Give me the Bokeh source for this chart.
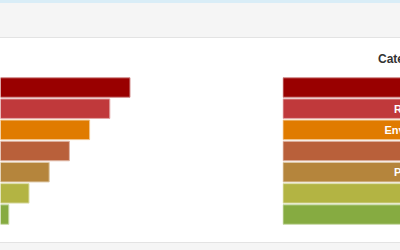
from bokeh.plotting import figure
from bokeh.models import ColumnDataSource, Range1d, Div, Label
from bokeh.layouts import column, row
from bokeh.embed import file_html
from bokeh.resources import INLINE
from bokeh.core.properties import value

# ---- data ----
categories = ["Safety", "Regulatory", "Environmental", "Health", "Procedural", "Quality", "Other"]
counts = [7, 6, 5, 4, 3, 2, 1]
colors = ["#990000", "#c0393b", "#e07b00", "#b9603a", "#b5853c", "#b3b443", "#86ab41"]
header_text = "Category"


def lighten(h, f=0.55):
    h = h.lstrip("#")
    r, g, b = (int(h[i:i + 2], 16) for i in (0, 2, 4))
    r, g, b = (int(c + (255 - c) * f) for c in (r, g, b))
    return "#%02x%02x%02x" % (r, g, b)


borders = [lighten(c) for c in colors]
pos = list(range(len(categories)))

src = ColumnDataSource(dict(cat=categories, n=counts, y=pos, fill=colors, edge=borders,
                            zero=[0] * len(pos), one=[1] * len(pos), mid=[0.5] * len(pos)))

FIG_H = 204
y_rng = lambda: Range1d(7.32, -2.315)


def base(w, xr):
    p = figure(width=w, height=FIG_H, x_range=xr, y_range=y_rng(), output_backend="svg",
               toolbar_location=None, min_border=0, x_axis_location=None, y_axis_location=None,
               outline_line_color=None, background_fill_color="white", border_fill_color="white")
    p.grid.visible = False
    return p


left = base(282, Range1d(0.589, 14.55))
left.hbar(y="y", left="zero", right="n", height=0.92, fill_color="fill", line_color="edge",
          line_width=1, source=src)

right = base(118, Range1d(-0.0018, 0.4205))
right.hbar(y="y", left="zero", right="one", height=0.92, fill_color="fill", line_color="edge",
           line_width=1, source=src)
right.text(x="mid", y="y", text="cat", text_align="center", text_baseline="middle",
           text_color="white", text_font=value("Liberation Sans"), text_font_style="bold",
           text_font_size="11px", source=src)
right.add_layout(Label(x=95.5, x_units="screen", y=-1.37, text=header_text, text_align="left",
                       text_baseline="middle", text_color="#333333",
                       text_font="Liberation Sans", text_font_style="bold", text_font_size="12px"))

header = Div(text="", width=400, height=38, margin=0,
             styles={"background-color": "#f5f5f5", "border-top": "3px solid #d9edf7",
                     "border-bottom": "1px solid #e3e3e3", "box-sizing": "border-box"})
footer = Div(text="", width=400, height=8, margin=0,
             styles={"background-color": "#f5f5f5", "border-top": "1px solid #e3e3e3",
                     "box-sizing": "border-box"})

layout = column(header, row(left, right, spacing=0), footer, spacing=0)

open("out.html", "w").write(file_html(layout, INLINE))
